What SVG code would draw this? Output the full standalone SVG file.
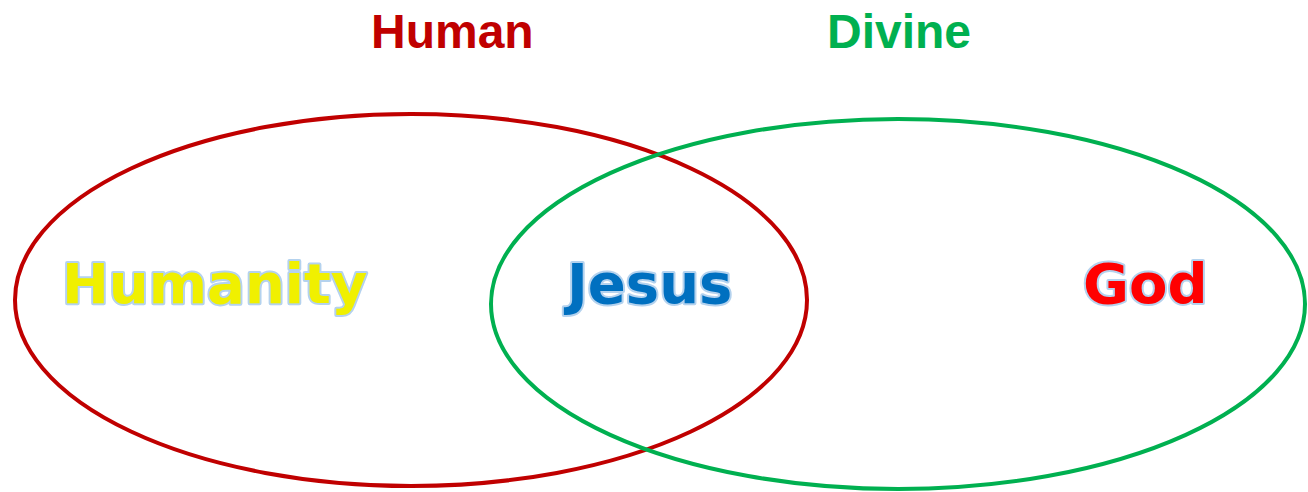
<svg xmlns="http://www.w3.org/2000/svg" width="1308" height="492" viewBox="0 0 1308 492">
  <style>
    .ring { fill: none; stroke-width: 4; }
    .title { font-family: "Liberation Sans", Arial, sans-serif; font-weight: bold; font-size: 48px; }
    .label { font-family: "DejaVu Sans", Verdana, sans-serif; font-weight: bold; font-size: 56px; stroke: #B4D2EE; stroke-width: 4; stroke-linejoin: round; paint-order: stroke; }
  </style>
  <rect width="1308" height="492" fill="#FFFFFF"/>
  <g id="human-set">
    <ellipse class="ring" cx="411" cy="300" rx="396" ry="186" stroke="#C00000"/>
    <text class="title" x="371" y="48" fill="#C00000">Human</text>
  </g>
  <g id="divine-set">
    <ellipse class="ring" cx="898" cy="304" rx="407" ry="185" stroke="#00B050"/>
    <text class="title" x="827" y="48" fill="#00B050">Divine</text>
  </g>
  <g id="humanity">
    <text class="label" x="62" y="303" fill="#F0F000">Humanity</text>
  </g>
  <g id="jesus">
    <text class="label" x="567" y="303" fill="#0070C0">Jesus</text>
  </g>
  <g id="god">
    <text class="label" x="1083" y="303" fill="#FF0000">God</text>
  </g>
</svg>
